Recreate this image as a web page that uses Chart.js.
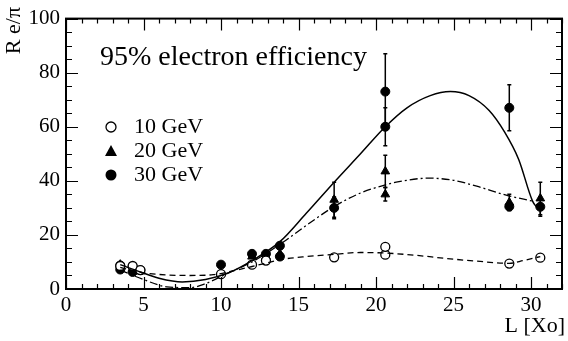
<!DOCTYPE html>
<html>
<head>
<meta charset="utf-8">
<script src="https://cdn.jsdelivr.net/npm/chart.js@4"></script>
<style>
  html, body { margin: 0; padding: 0; background: #fff; }
  #wrap { width: 568px; height: 341px; }
</style>
</head>
<body>
<div id="wrap"><canvas id="myChart"></canvas></div>
<script>
// measured points (L in Xo, R e/pi)
const L10 = [3.5, 4.3, 4.8, 10, 12, 12.9, 17.3, 20.6, 20.6, 28.6, 30.6];
const R10 = [8.5, 8.5, 7, 5.5, 9, 10.5, 11.7, 12.7, 15.6, 9.4, 11.6];

const L20 = [3.5, 4.3, 4.8, 10, 12, 12.9, 13.8, 17.3, 20.6, 20.6, 28.6, 30.6];
const R20 = [9, 7.5, 6.5, 6, 12, 12, 13, 33, 35, 43.5, 32, 33.5];
const E20 = [0, 0, 0, 0, 0, 0, 0, 6.5, 2.5, 6, 3, 6];

const L30 = [3.5, 3.5, 4.3, 4.3, 4.8, 10, 12, 12.9, 13.8, 13.8, 17.3, 20.6, 20.6, 28.6, 28.6, 30.6];
const R30 = [8.7, 7.2, 8.3, 6.3, 7, 9, 13, 13, 16, 12, 30, 60, 73, 67, 30.5, 30.4];
const E30 = [0, 0, 0, 0, 0, 0, 0, 0, 0, 0, 4, 7, 14, 8.5, 1.5, 3.5];

// fitted curves
const curveL10 = [3.5, 5, 6.5, 8, 9.5, 11, 12.5, 14, 15.5, 17.3, 19, 20.6, 22.5, 24.5, 26.5, 28.6, 29.5, 30.6];
const curveR10 = [8, 6, 5.2, 5, 5.3, 7, 9, 11, 12, 12.8, 13.5, 13.3, 12.5, 11.3, 10.3, 9.5, 10.5, 12];

const curveL20 = [3.5, 5, 6.5, 8, 9, 10.5, 12, 13.8, 15.5, 17.3, 19, 20.6, 21.3, 23.4, 25, 26.5, 28.4, 30.1];
const curveR20 = [7, 3.5, 0.8, 0.5, 2, 6, 10, 16.5, 23.5, 30.5, 35.5, 38.5, 39.5, 41, 40.2, 38, 34.7, 32.5];

const curveL30 = [3.5, 4.8, 6, 7.5, 9, 10.5, 12, 13.8, 15.5, 17.3, 19, 20.6, 22, 23.5, 24.8, 26, 27.3, 28.3, 29.2, 30.1, 30.4];
const curveR30 = [9, 6.3, 4, 2.6, 3.5, 6, 10.5, 17.5, 28, 39.5, 50, 60, 67, 71.5, 73, 71.5, 66, 58, 48, 32.5, 30];

const legendLabels = ["10 GeV", "20 GeV", "30 GeV"];
const chartTitle = "95% electron efficiency";

const FONT = "'Liberation Serif', 'DejaVu Serif', serif";

function pts(xs, ys) {
  return xs.map((x, i) => ({ x: x, y: ys[i] }));
}

const errorBars = {
  id: "errorBars",
  beforeDatasetsDraw(chart) {
    const ctx = chart.ctx;
    const xs = chart.scales.x, ys = chart.scales.y;
    ctx.save();
    ctx.strokeStyle = "#000";
    ctx.lineWidth = 1.5;
    chart.data.datasets.forEach((ds) => {
      if (!ds.err) return;
      ds.data.forEach((p, i) => {
        const e = ds.err[i];
        if (!e) return;
        const px = xs.getPixelForValue(p.x);
        ctx.beginPath();
        ctx.moveTo(px, ys.getPixelForValue(p.y - e));
        ctx.lineTo(px, ys.getPixelForValue(p.y + e));
        ctx.stroke();
        ctx.beginPath();
        ctx.moveTo(px - 2, ys.getPixelForValue(p.y + e));
        ctx.lineTo(px + 2, ys.getPixelForValue(p.y + e));
        ctx.moveTo(px - 2, ys.getPixelForValue(p.y - e));
        ctx.lineTo(px + 2, ys.getPixelForValue(p.y - e));
        ctx.stroke();
      });
    });
    ctx.restore();
  },
};

const frame = {
  id: "frame",
  afterDraw(chart) {
    const ctx = chart.ctx;
    const a = chart.chartArea;
    const xs = chart.scales.x, ys = chart.scales.y;
    ctx.save();
    ctx.strokeStyle = "#000";
    ctx.lineWidth = 2;
    ctx.strokeRect(a.left, a.top, a.right - a.left, a.bottom - a.top);
    ctx.lineWidth = 1.2;
    ctx.beginPath();
    for (let v = 0; v <= 32; v++) {
      const len = v % 5 === 0 ? 12 : 5;
      const px = Math.round(xs.getPixelForValue(v)) + 0.5;
      ctx.moveTo(px, a.bottom);
      ctx.lineTo(px, a.bottom - len);
      ctx.moveTo(px, a.top);
      ctx.lineTo(px, a.top + len);
    }
    for (let v = 0; v <= 100; v += 5) {
      const len = v % 20 === 0 ? 12 : 6;
      const py = Math.round(ys.getPixelForValue(v)) + 0.5;
      ctx.moveTo(a.left, py);
      ctx.lineTo(a.left + len, py);
      ctx.moveTo(a.right, py);
      ctx.lineTo(a.right - len, py);
    }
    ctx.stroke();

    // texts
    ctx.fillStyle = "#000";
    ctx.textBaseline = "middle";
    ctx.textAlign = "left";
    ctx.font = "28px " + FONT;
    ctx.fillText(chartTitle, 100, 58);

    ctx.font = "22px " + FONT;
    const ly = [127, 151, 175];
    legendLabels.forEach((t, i) => ctx.fillText(t, 134, ly[i]));
    // legend markers
    ctx.lineWidth = 1.3;
    ctx.beginPath();
    ctx.arc(111, ly[0], 5, 0, Math.PI * 2);
    ctx.fillStyle = "#fff";
    ctx.fill();
    ctx.stroke();
    ctx.fillStyle = "#000";
    ctx.beginPath();
    ctx.moveTo(111, ly[1] - 6);
    ctx.lineTo(117, ly[1] + 5);
    ctx.lineTo(105, ly[1] + 5);
    ctx.closePath();
    ctx.fill();
    ctx.beginPath();
    ctx.arc(111, ly[2], 5.5, 0, Math.PI * 2);
    ctx.fill();

    // axis titles
    ctx.font = "22px " + FONT;
    ctx.textAlign = "right";
    ctx.fillText("L [Xo]", 565, 326);
    ctx.save();
    ctx.translate(14, 7);
    ctx.rotate(-Math.PI / 2);
    ctx.textAlign = "right";
    ctx.fillText("R e/\u03c0", 0, 0);
    ctx.restore();
    ctx.restore();
  },
};

new Chart(document.getElementById("myChart"), {
  type: "scatter",
  data: {
    datasets: [
      {
        label: "fit 10 GeV",
        data: pts(curveL10, curveR10),
        showLine: true,
        borderColor: "#000",
        borderWidth: 1.3,
        borderDash: [6, 4],
        pointRadius: 0,
        cubicInterpolationMode: "monotone",
      },
      {
        label: "fit 20 GeV",
        data: pts(curveL20, curveR20),
        showLine: true,
        borderColor: "#000",
        borderWidth: 1.3,
        borderDash: [8, 3, 2, 3],
        pointRadius: 0,
        cubicInterpolationMode: "monotone",
      },
      {
        label: "fit 30 GeV",
        data: pts(curveL30, curveR30),
        showLine: true,
        borderColor: "#000",
        borderWidth: 1.5,
        pointRadius: 0,
        cubicInterpolationMode: "monotone",
      },
      {
        label: legendLabels[0],
        data: pts(L10, R10),
        pointStyle: "circle",
        pointRadius: 4.5,
        backgroundColor: "#fff",
        borderColor: "#000",
        borderWidth: 1.3,
      },
      {
        label: legendLabels[1],
        data: pts(L20, R20),
        err: E20,
        pointStyle: "triangle",
        pointRadius: 5,
        backgroundColor: "#000",
        borderColor: "#000",
        borderWidth: 1,
      },
      {
        label: legendLabels[2],
        data: pts(L30, R30),
        err: E30,
        pointStyle: "circle",
        pointRadius: 4.5,
        backgroundColor: "#000",
        borderColor: "#000",
        borderWidth: 1,
      },
    ],
  },
  options: {
    responsive: true,
    maintainAspectRatio: false,
    animation: false,
    layout: { padding: { left: 0, top: 13, right: 1, bottom: 0 } },
    plugins: {
      legend: { display: false },
      tooltip: { enabled: false },
    },
    scales: {
      x: {
        type: "linear",
        min: 0,
        max: 32,
        afterFit: (s) => { s.height = 52; },
        grid: { display: false, drawTicks: false },
        border: { display: false },
        ticks: {
          stepSize: 5,
          includeBounds: false,
          padding: 4,
          color: "#000",
          font: { family: FONT, size: 21 },
          maxRotation: 0,
        },
      },
      y: {
        min: 0,
        max: 100,
        afterFit: (s) => { s.width = 66; },
        grid: { display: false, drawTicks: false },
        border: { display: false },
        ticks: {
          stepSize: 20,
          padding: 6,
          color: "#000",
          font: { family: FONT, size: 21 },
        },
      },
    },
  },
  plugins: [errorBars, frame],
});
</script>
</body>
</html>
